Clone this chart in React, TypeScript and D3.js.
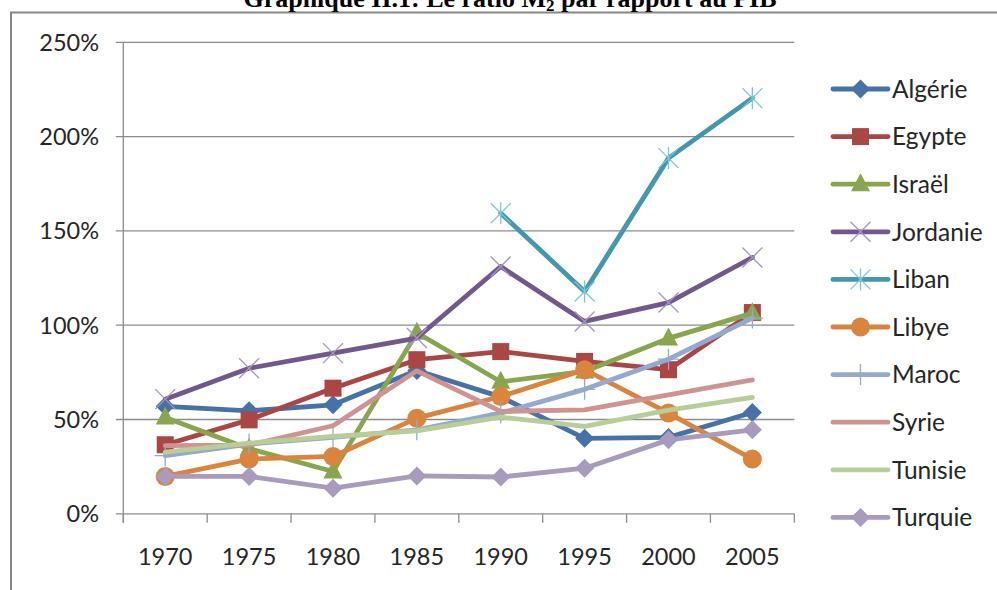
import React from "react";
import * as d3 from "d3";

const years = ["1970", "1975", "1980", "1985", "1990", "1995", "2000", "2005"];
const yTicks = [0, 50, 100, 150, 200, 250];

const countries = [
  "Algérie",
  "Egypte",
  "Israël",
  "Jordanie",
  "Liban",
  "Libye",
  "Maroc",
  "Syrie",
  "Tunisie",
  "Turquie",
];

// ratio M2 / PIB in %, null = pas de donnée
const algerie = [57, 54.6, 57.8, 76, 62, 40, 40.5, 53.7];
const egypte = [36.6, 49.8, 66.6, 81.7, 86, 80.8, 76.4, 106.7];
const israel = [51, 34.5, 22.4, 96, 70, 75.5, 93, 106.4];
const jordanie = [60.8, 77.2, 85.2, 93.2, 131.1, 102, 112, 135.9];
const liban = [null, null, null, null, 159.4, 117.9, 188.6, 220.4];
const libye = [19.8, 29, 30.4, 50.7, 62.2, 76.4, 53.4, 29];
const maroc = [30.8, 37, 40.5, 44.5, 53.4, 66, 82, 103.8];
const syrie = [36.2, 36.4, 46.7, 75.8, 54.3, 55.1, 63, 71];
const tunisie = [32.7, 37.5, 41, 44, 51.3, 46.3, 55, 61.7];
const turquie = [19.8, 19.8, 13.6, 20.1, 19.5, 24.2, 39.2, 44.5];

const seriesValues = [algerie, egypte, israel, jordanie, liban, libye, maroc, syrie, tunisie, turquie];

const colors = ["#4572A7", "#AA4643", "#89A54E", "#71588F", "#4198AF", "#DB843D", "#93A9CF", "#D19392", "#B9CD96", "#A99BBD"];
const markerColors = ["#4572A7", "#AA4643", "#89A54E", "#A596C2", "#7CC6DC", "#DB843D", "#93A9CF", "#D19392", "#B9CD96", "#A99BBD"];
const markers = ["diamond", "square", "triangle", "x", "star", "circle", "plus", "none", "none", "diamond"];

const FONT = "Lato, 'Open Sans', sans-serif";

const Marker = ({ type, cx, cy, color }: { type: string; cx: number; cy: number; color: string }) => {
  switch (type) {
    case "diamond": {
      const r = 9.5;
      return <path d={`M${cx},${cy - r}L${cx + r},${cy}L${cx},${cy + r}L${cx - r},${cy}Z`} fill={color} />;
    }
    case "square":
      return <rect x={cx - 8.5} y={cy - 8.5} width={17} height={17} fill={color} />;
    case "triangle": {
      const w = 9.5;
      return <path d={`M${cx},${cy - 11}L${cx + w},${cy + 7}L${cx - w},${cy + 7}Z`} fill={color} />;
    }
    case "circle":
      return <circle cx={cx} cy={cy} r={9.5} fill={color} />;
    case "x": {
      const r = 10;
      return (
        <path
          d={`M${cx - r},${cy - r}L${cx + r},${cy + r}M${cx - r},${cy + r}L${cx + r},${cy - r}`}
          stroke={color}
          strokeWidth={1.3}
          fill="none"
        />
      );
    }
    case "star": {
      const r = 10;
      return (
        <path
          d={`M${cx - r},${cy - r}L${cx + r},${cy + r}M${cx - r},${cy + r}L${cx + r},${cy - r}M${cx},${cy - r - 1}L${cx},${cy + r + 1}`}
          stroke={color}
          strokeWidth={1.3}
          fill="none"
        />
      );
    }
    case "plus": {
      const r = 10.5;
      return (
        <path d={`M${cx},${cy - r}L${cx},${cy + r}M${cx - r},${cy}L${cx + r},${cy}`} stroke={color} strokeWidth={1.3} fill="none" />
      );
    }
    default:
      return null;
  }
};

const App = () => {
  const width = 997;
  const height = 590;
  const plot = { left: 123.3, right: 794.3, top: 42.3, bottom: 513.8 };

  const xScale = d3.scaleBand().domain(years).range([plot.left, plot.right]);
  const yScale = d3.scaleLinear().domain([0, 250]).range([plot.bottom, plot.top]);
  const xc = (y: string) => (xScale(y) as number) + xScale.bandwidth() / 2;

  const line = d3
    .line<number | null>()
    .defined((d) => d !== null)
    .x((_, i) => xc(years[i]))
    .y((d) => yScale(d as number));

  const legendX = 833;
  const legendY = 89;
  const legendStep = 47.6;

  return (
    <svg width={width} height={height} style={{ position: "absolute", left: 0, top: 0, background: "#fff" }}>
      <rect x={11} y={12.5} width={1000} height={600} fill="#fff" stroke="#878787" strokeWidth={2} />
      <text
        x={510}
        y={7}
        textAnchor="middle"
        fontFamily="'Liberation Serif', 'Times New Roman', serif"
        fontWeight="bold"
        fontSize={26}
        fill="#000"
      >
        Graphique II.1: Le ratio M
        <tspan fontSize={17} dy={4}>
          2
        </tspan>
        <tspan dy={-4}> par rapport au PIB</tspan>
      </text>

      {/* gridlines and y axis */}
      {yTicks.map((t) => (
        <g key={t}>
          <line x1={plot.left - 7.5} x2={plot.right} y1={yScale(t)} y2={yScale(t)} stroke="#8c8c8c" strokeWidth={1.3} />
          <text
            x={99}
            y={yScale(t)}
            dy="0.36em"
            textAnchor="end"
            fontFamily={FONT}
            fontSize={23.5}
            fill="#262626"
          >
            {t}%
          </text>
        </g>
      ))}
      <line x1={plot.left} x2={plot.left} y1={plot.top} y2={plot.bottom + 9} stroke="#8c8c8c" strokeWidth={1.3} />

      {/* x axis ticks */}
      {years.map((y) => (
        <line
          key={"t" + y}
          x1={xScale(y) as number}
          x2={xScale(y) as number}
          y1={plot.bottom}
          y2={plot.bottom + 9}
          stroke="#8c8c8c"
          strokeWidth={1.3}
        />
      ))}
      <line x1={plot.right} x2={plot.right} y1={plot.bottom} y2={plot.bottom + 9} stroke="#8c8c8c" strokeWidth={1.3} />
      {years.map((y) => (
        <text key={"l" + y} x={xc(y)} y={565} textAnchor="middle" fontFamily={FONT} fontSize={23.5} fill="#262626">
          {y}
        </text>
      ))}

      {/* series */}
      {seriesValues.map((vals, si) => (
        <g key={countries[si]}>
          <path d={line(vals) || ""} fill="none" stroke={colors[si]} strokeWidth={4.8} strokeLinejoin="round" strokeLinecap="round" />
          {vals.map((v, i) =>
            v === null ? null : (
              <Marker key={i} type={markers[si]} cx={xc(years[i])} cy={yScale(v)} color={markerColors[si]} />
            )
          )}
        </g>
      ))}

      {/* legend */}
      {countries.map((c, i) => {
        const cy = legendY + i * legendStep;
        return (
          <g key={"lg" + c}>
            <line x1={legendX} x2={legendX + 55} y1={cy} y2={cy} stroke={colors[i]} strokeWidth={4.8} strokeLinecap="round" />
            <Marker type={markers[i]} cx={legendX + 27.5} cy={cy} color={markerColors[i]} />
            <text x={legendX + 59} y={cy} dy="0.36em" fontFamily={FONT} fontSize={24.5} fill="#262626">
              {c}
            </text>
          </g>
        );
      })}
    </svg>
  );
};

export default App;
